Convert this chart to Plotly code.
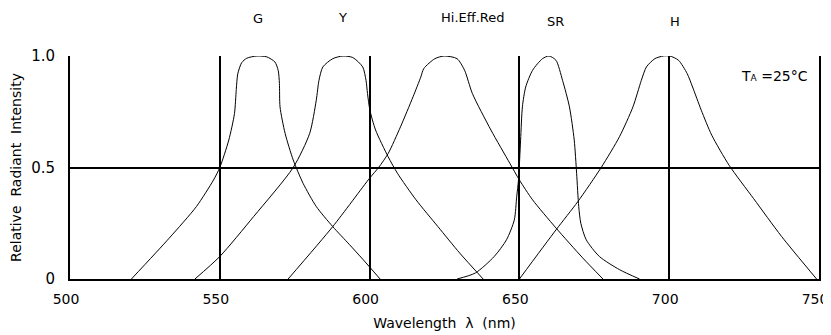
import plotly.graph_objects as go

# wavelength (nm) / relative intensity
g_nm = [520.5, 533.1, 542.2, 547.9, 550.0, 553.0, 554.9, 555.5, 556.0, 557.3, 559.0, 562.4,
        565.7, 568.4, 569.5, 569.9, 570.1, 571.8, 574.5, 577.8, 582.2, 587.7, 593.3, 597.7, 603.5]
g_val = [0, 0.183, 0.325, 0.444, 0.5, 0.623, 0.742, 0.85, 0.92, 0.97, 0.99, 1.0,
         0.996, 0.973, 0.935, 0.877, 0.772, 0.653, 0.534, 0.429, 0.325, 0.235, 0.154, 0.089, 0]

y_nm = [541.7, 550.0, 561.3, 574.5, 580.0, 582.2, 583.1, 584.4, 587.7, 591.1, 594.4,
        597.7, 598.8, 599.3, 600.1, 602.0, 606.2, 609.3, 615.5, 622.8, 630.1, 637.9]
y_val = [0, 0.101, 0.280, 0.5, 0.653, 0.802, 0.891, 0.951, 0.988, 1.0, 0.993,
         0.951, 0.891, 0.832, 0.757, 0.668, 0.548, 0.474, 0.355, 0.235, 0.116, 0]

her_nm = [572.8, 587.7, 600.0, 603.0, 606.2, 610.3, 614.5, 617.1, 618.1, 621.8, 624.9, 629.2,
          631.7, 634.3, 640.5, 646.8, 650.0, 654.4, 662.2, 671.1, 677.9]
her_val = [0, 0.235, 0.452, 0.5, 0.563, 0.682, 0.817, 0.906, 0.944, 0.988, 1.0, 0.988,
           0.936, 0.832, 0.668, 0.519, 0.444, 0.355, 0.229, 0.095, 0]

sr_nm = [629.2, 635.3, 641.6, 645.7, 648.3, 649.1, 649.7, 650.4, 651.0, 652.1, 654.4, 657.7,
         659.9, 662.2, 664.4, 666.7, 668.3, 669.1, 669.8, 670.5, 672.3, 676.7, 683.4, 690.1]
sr_val = [0, 0.027, 0.101, 0.176, 0.265, 0.369, 0.444, 0.623, 0.772, 0.861, 0.936, 0.988,
          1.0, 0.981, 0.891, 0.772, 0.623, 0.474, 0.325, 0.250, 0.176, 0.101, 0.042, 0]

h_nm = [650.0, 662.2, 669.5, 677.3, 683.4, 687.9, 690.7, 692.4, 695.2, 698.0, 700.2,
        703.1, 706.0, 707.8, 710.7, 714.2, 720.0, 728.2, 737.5, 749.2]
h_val = [0, 0.220, 0.347, 0.5, 0.638, 0.772, 0.891, 0.951, 0.988, 1.0, 1.0,
         0.981, 0.921, 0.861, 0.757, 0.645, 0.51, 0.36, 0.191, 0]

series = [
    ("G", g_nm, g_val),
    ("Y", y_nm, y_val),
    ("Hi.Eff.Red", her_nm, her_val),
    ("SR", sr_nm, sr_val),
    ("H", h_nm, h_val),
]

# curve labels above the frame
label_text = ["G", "Y", "Hi.Eff.Red", "SR", "H"]
label_x = [562.7, 591.1, 634.5, 661.9, 701.9]
label_y = [1.17, 1.173, 1.173, 1.155, 1.155]

x_ticks = [500, 550, 600, 650, 700, 750]
y_ticks = [0, 0.5, 1.0]
y_ticktext = ["0", "0.5", "1.0"]

FONT = "DejaVu Sans"

fig = go.Figure()
for name, xs, ys in series:
    fig.add_trace(
        go.Scatter(
            x=xs,
            y=ys,
            mode="lines",
            name=name,
            line={"color": "black", "width": 1, "shape": "spline", "smoothing": 0.7},
            showlegend=False,
        )
    )

for text, x, y in zip(label_text, label_x, label_y):
    fig.add_annotation(
        x=x, y=y, xref="x", yref="paper", text=text, showarrow=False,
        font={"family": FONT, "size": 13, "color": "black"},
        xanchor="center", yanchor="middle",
    )

fig.add_annotation(
    x=747, y=0.909, xref="x", yref="paper",
    text="T<span style='font-size:9px'>A</span> =25°C",
    showarrow=False, xanchor="right", yanchor="middle",
    font={"family": FONT, "size": 14, "color": "black"},
)

fig.update_xaxes(
    range=[500, 750],
    tickvals=x_ticks,
    ticks="",
    showgrid=True,
    gridcolor="black",
    gridwidth=1.5,
    zeroline=False,
    showline=True,
    linecolor="black",
    linewidth=2,
    automargin=False,
    ticklabelstandoff=6,
    ticklabelshift=-4,
    ticklabeloverflow="allow",
    tickfont={"family": FONT, "size": 14, "color": "black"},
    title={
        "text": "Wavelength  λ  (nm)",
        "font": {"family": FONT, "size": 14, "color": "black"},
        "standoff": 12,
    },
)
fig.update_yaxes(
    range=[0, 1.0],
    tickvals=y_ticks,
    ticktext=y_ticktext,
    ticks="",
    showgrid=True,
    gridcolor="black",
    gridwidth=2,
    zeroline=False,
    showline=True,
    mirror=True,
    linecolor="black",
    linewidth=2,
    automargin=False,
    ticklabelstandoff=10,
    tickfont={"family": FONT, "size": 15, "color": "black"},
    title={
        "text": "Relative  Radiant  Intensity",
        "font": {"family": FONT, "size": 14, "color": "black"},
        "standoff": 6,
    },
)

# the page body keeps its default 8px margin, so the figure is 8px smaller
fig.update_layout(
    width=823,
    height=327,
    margin={"l": 62, "r": 12, "t": 48, "b": 56},
    plot_bgcolor="white",
    paper_bgcolor="white",
    font={"family": FONT, "color": "black"},
)

fig.write_html("out.html")
